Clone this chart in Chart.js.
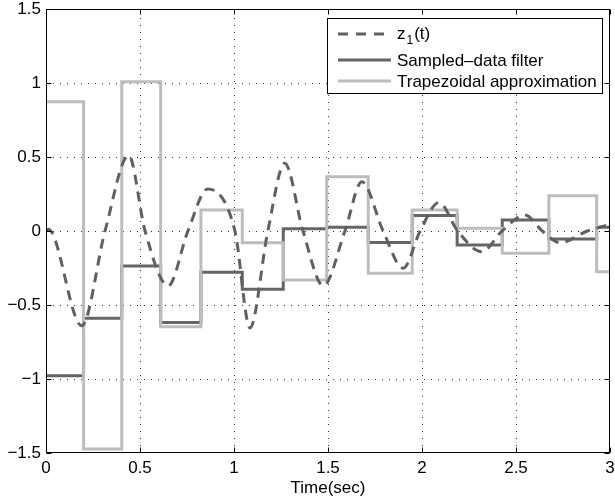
<!DOCTYPE html>
<html><head><meta charset="utf-8">
<script src="https://cdn.jsdelivr.net/npm/chart.js@4.4.0/dist/chart.umd.min.js"></script>
<style>html,body{margin:0;padding:0;background:#fff}#c{display:block}</style>
</head><body>
<canvas id="c" width="615" height="501"></canvas>
<script>
// ---- data ----
const stepTimes = [0, 0.2, 0.403, 0.61, 0.824, 1.044, 1.262, 1.493, 1.714, 1.948, 2.187, 2.427, 2.675, 2.929, 3.0];
const sampledValues = [-0.978, -0.590, -0.236, -0.619, -0.279, -0.394, 0.016, 0.025, -0.077, 0.104, -0.095, 0.074, -0.054, 0.025];
const trapezoidalValues = [0.874, -1.473, 1.009, -0.647, 0.142, -0.079, -0.331, 0.367, -0.286, 0.142, 0.018, -0.151, 0.239, -0.275];
const z1Times = [0, 0.012, 0.19, 0.314, 0.44, 0.527, 0.65, 0.755, 0.86, 1.005, 1.085, 1.18, 1.27, 1.367, 1.475, 1.59, 1.68, 1.793, 1.90, 1.99, 2.09, 2.19, 2.317, 2.426, 2.548, 2.64, 2.734, 2.88, 3.0];
const z1Values = [0, 0.012, -0.64, 0, 0.51, 0, -0.37, 0, 0.283, 0, -0.655, 0, 0.458, 0, -0.37, 0, 0.333, 0, -0.252, 0, 0.192, 0, -0.14, 0, 0.108, 0, -0.079, 0, 0.045];
const xTicks = [0, 0.5, 1, 1.5, 2, 2.5, 3];
const yTicks = [-1.5, -1, -0.5, 0, 0.5, 1, 1.5];
const seriesLabels = ['z1(t)', 'Sampled\u2013data filter', 'Trapezoidal approximation'];
const xTitle = 'Time(sec)';

// ---- build datasets ----
function stepPoints(vals) {
  const pts = vals.map((v, i) => ({x: stepTimes[i], y: v}));
  pts.push({x: stepTimes[stepTimes.length - 1], y: vals[vals.length - 1]});
  return pts;
}
const COL_DASH = '#606060', COL_DARK = '#656565', COL_LIGHT = '#bdbdbd';
const FONT = '"Liberation Sans", Arial, Helvetica, sans-serif';

const fmt = v => (v < 0 ? '\u2212' : '') + String(Math.abs(v));

const framePlugin = {
  id: 'frame',
  beforeDatasetsDraw(chart) {
    const {ctx, chartArea: a, scales: {x, y}} = chart;
    ctx.save();
    ctx.strokeStyle = '#333';
    ctx.lineWidth = 1;
    ctx.setLineDash([1, 6]);
    xTicks.forEach(v => {
      if (v === xTicks[0] || v === xTicks[xTicks.length - 1]) return;
      const px = Math.round(x.getPixelForValue(v)) + 0.5;
      ctx.beginPath(); ctx.moveTo(px, a.bottom); ctx.lineTo(px, a.top); ctx.stroke();
    });
    yTicks.forEach(v => {
      if (v === yTicks[0] || v === yTicks[yTicks.length - 1]) return;
      const py = Math.round(y.getPixelForValue(v)) + 0.5;
      ctx.beginPath(); ctx.moveTo(a.left, py); ctx.lineTo(a.right, py); ctx.stroke();
    });
    ctx.restore();
  },
  afterDatasetsDraw(chart) {
    const {ctx, chartArea: a, scales: {x, y}} = chart;
    ctx.save();
    ctx.strokeStyle = '#000';
    ctx.lineWidth = 1;
    ctx.setLineDash([]);
    const L = Math.round(a.left) + 0.5, R = Math.round(a.right) - 0.5;
    const T = Math.round(a.top) + 0.5, B = Math.round(a.bottom) - 0.5;
    ctx.strokeRect(L, T, R - L, B - T);
    const tl = 5;
    xTicks.forEach(v => {
      const px = Math.round(x.getPixelForValue(v)) + 0.5;
      ctx.beginPath(); ctx.moveTo(px, B); ctx.lineTo(px, B - tl); ctx.moveTo(px, T); ctx.lineTo(px, T + tl); ctx.stroke();
    });
    yTicks.forEach(v => {
      const py = Math.round(y.getPixelForValue(v)) + 0.5;
      ctx.beginPath(); ctx.moveTo(L, py); ctx.lineTo(L + tl, py); ctx.moveTo(R, py); ctx.lineTo(R - tl, py); ctx.stroke();
    });

    // legend
    const bx = 327.5, by = 18.5, bw = 275, bh = 75;
    ctx.fillStyle = '#fff';
    ctx.fillRect(bx, by, bw, bh);
    ctx.strokeRect(bx, by, bw, bh);
    const rows = [34, 60, 81];
    const styles = [
      {c: COL_DASH, d: [10, 8]},
      {c: COL_DARK, d: []},
      {c: COL_LIGHT, d: []}
    ];
    rows.forEach((ry, i) => {
      ctx.strokeStyle = styles[i].c;
      ctx.lineWidth = 3;
      ctx.setLineDash(styles[i].d);
      ctx.beginPath(); ctx.moveTo(338, ry); ctx.lineTo(391, ry); ctx.stroke();
    });
    ctx.setLineDash([]);
    ctx.fillStyle = '#000';
    ctx.textBaseline = 'middle';
    ctx.textAlign = 'left';
    // z1(t) with subscript
    const z = seriesLabels[0];
    ctx.font = '17px ' + FONT;
    ctx.fillText(z.charAt(0), 397, rows[0]);
    let w = ctx.measureText(z.charAt(0)).width;
    ctx.font = '12px ' + FONT;
    ctx.fillText(z.charAt(1), 397 + w + 1, rows[0] + 7);
    const w2 = ctx.measureText(z.charAt(1)).width;
    ctx.font = '17px ' + FONT;
    ctx.fillText(z.slice(2), 397 + w + w2 + 2, rows[0]);
    ctx.fillText(seriesLabels[1], 397, rows[1] + 1);
    ctx.fillText(seriesLabels[2], 397, rows[2] + 1);
    ctx.restore();
  }
};

new Chart(document.getElementById('c'), {
  type: 'line',
  data: {
    datasets: [
      {label: seriesLabels[0], data: z1Times.map((t, i) => ({x: t, y: z1Values[i]})),
       borderColor: COL_DASH, borderWidth: 3, borderDash: [10, 7], pointRadius: 0,
       cubicInterpolationMode: 'monotone', fill: false},
      {label: seriesLabels[2], data: stepPoints(trapezoidalValues), stepped: 'before',
       borderColor: COL_LIGHT, borderWidth: 3, pointRadius: 0, fill: false},
      {label: seriesLabels[1], data: stepPoints(sampledValues), stepped: 'before',
       borderColor: COL_DARK, borderWidth: 3, pointRadius: 0, fill: false}
    ]
  },
  options: {
    responsive: false,
    animation: false,
    events: [],
    layout: {padding: {left: 0, top: 9, right: 5, bottom: 0}},
    plugins: {legend: {display: false}, tooltip: {enabled: false}, title: {display: false}},
    scales: {
      x: {
        type: 'linear', min: 0, max: 3,
        grid: {display: false, drawTicks: false},
        border: {display: false},
        afterBuildTicks: s => { s.ticks = xTicks.map(v => ({value: v})); },
        afterFit: s => { s.height = 48; s.paddingLeft = 0; s.paddingRight = 0; },
        ticks: {color: '#000', font: {family: FONT, size: 17}, padding: 5, maxRotation: 0, autoSkip: false, callback: v => fmt(v)},
        title: {display: true, text: xTitle, color: '#000', font: {family: FONT, size: 17}, padding: {top: 0, bottom: 2}}
      },
      y: {
        type: 'linear', min: -1.5, max: 1.5,
        grid: {display: false, drawTicks: false},
        border: {display: false},
        afterBuildTicks: s => { s.ticks = yTicks.map(v => ({value: v})); },
        afterFit: s => { s.width = 46; s.paddingTop = 0; s.paddingBottom = 0; },
        ticks: {color: '#000', font: {family: FONT, size: 17}, padding: 5, autoSkip: false, callback: v => fmt(v)}
      }
    }
  },
  plugins: [framePlugin]
});
</script>
</body></html>
